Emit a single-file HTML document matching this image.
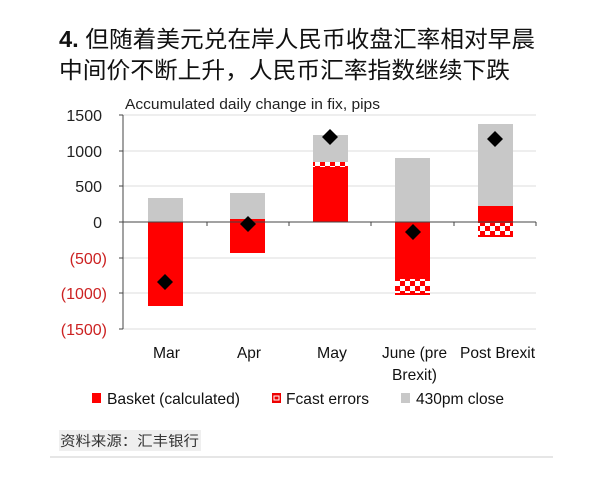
<!DOCTYPE html>
<html><head><meta charset="utf-8"><style>
body{margin:0;background:#fff;width:612px;height:474px;overflow:hidden}
</style></head><body>
<svg width="612" height="474" xmlns="http://www.w3.org/2000/svg" font-family="Liberation Sans, Noto Sans CJK SC, sans-serif">
<defs>
<pattern id="ck" width="10" height="10" patternUnits="userSpaceOnUse" x="0" y="1">
<rect width="10" height="10" fill="#fff"/><rect width="5" height="5" fill="#f00"/><rect x="5" y="5" width="5" height="5" fill="#f00"/>
</pattern>
</defs>
<text x="59" y="47" font-size="23" fill="#111" textLength="476" lengthAdjust="spacingAndGlyphs"><tspan font-weight="bold">4.</tspan> 但随着美元兑在岸人民币收盘汇率相对早晨</text>
<text x="59" y="78" font-size="23" fill="#111" textLength="451" lengthAdjust="spacingAndGlyphs">中间价不断上升，人民币汇率指数继续下跌</text>
<text x="125" y="109" font-size="15" fill="#222" textLength="255" lengthAdjust="spacingAndGlyphs">Accumulated daily change in fix, pips</text>
<g stroke="#ddd" stroke-width="1">
<line x1="123" y1="115" x2="536" y2="115"/><line x1="123" y1="151" x2="536" y2="151"/><line x1="123" y1="186" x2="536" y2="186"/>
<line x1="123" y1="258" x2="536" y2="258"/><line x1="123" y1="293" x2="536" y2="293"/><line x1="123" y1="329" x2="536" y2="329"/>
</g>
<g font-size="16" text-anchor="end">
<text x="102" y="121" fill="#222">1500</text><text x="102" y="157" fill="#222">1000</text><text x="102" y="192" fill="#222">500</text><text x="102" y="228" fill="#222">0</text>
<text x="107" y="264" fill="#c22">(500)</text><text x="107" y="299" fill="#c22">(1000)</text><text x="107" y="335" fill="#c22">(1500)</text>
</g>
<rect x="148" y="198" width="35" height="24" fill="#c8c8c8"/><rect x="148" y="222" width="35" height="84" fill="#f00"/>
<rect x="230" y="193" width="35" height="26" fill="#c8c8c8"/><rect x="230" y="219" width="35" height="34" fill="#f00"/>
<rect x="313" y="135" width="35" height="27" fill="#c8c8c8"/><rect x="313" y="162" width="35" height="5" fill="url(#ck)"/><rect x="313" y="167" width="35" height="55" fill="#f00"/>
<rect x="395" y="158" width="35" height="64" fill="#c8c8c8"/><rect x="395" y="222" width="35" height="57" fill="#f00"/><rect x="395" y="279" width="35" height="14" fill="url(#ck)"/><rect x="395" y="293" width="35" height="2" fill="#f00"/>
<rect x="478" y="124" width="35" height="82" fill="#c8c8c8"/><rect x="478" y="206" width="35" height="17" fill="#f00"/><rect x="478" y="223" width="35" height="12" fill="url(#ck)"/><rect x="478" y="235" width="35" height="2" fill="#f00"/>
<g stroke="#444" stroke-width="1">
<line x1="123" y1="115" x2="123" y2="329"/><line x1="123" y1="222" x2="536" y2="222"/>
<line x1="119" y1="115" x2="123" y2="115"/><line x1="119" y1="151" x2="123" y2="151"/><line x1="119" y1="186" x2="123" y2="186"/><line x1="119" y1="222" x2="123" y2="222"/><line x1="119" y1="258" x2="123" y2="258"/><line x1="119" y1="293" x2="123" y2="293"/><line x1="119" y1="329" x2="123" y2="329"/>
<line x1="207" y1="222" x2="207" y2="226"/><line x1="289" y1="222" x2="289" y2="226"/><line x1="371" y1="222" x2="371" y2="226"/><line x1="454" y1="222" x2="454" y2="226"/><line x1="536" y1="222" x2="536" y2="226"/>
</g>
<g fill="#000">
<path d="M165 274 l8 8 l-8 8 l-8 -8z"/>
<path d="M248 216 l8 8 l-8 8 l-8 -8z"/>
<path d="M330 129 l8 8 l-8 8 l-8 -8z"/>
<path d="M413 224 l8 8 l-8 8 l-8 -8z"/>
<path d="M495 131 l8 8 l-8 8 l-8 -8z"/>
</g>
<g font-size="16" fill="#111">
<text x="153" y="358" textLength="27" lengthAdjust="spacingAndGlyphs">Mar</text>
<text x="237" y="358" textLength="24" lengthAdjust="spacingAndGlyphs">Apr</text>
<text x="317" y="358" textLength="30" lengthAdjust="spacingAndGlyphs">May</text>
<text x="382" y="358" textLength="65" lengthAdjust="spacingAndGlyphs">June (pre</text>
<text x="392" y="380" textLength="45" lengthAdjust="spacingAndGlyphs">Brexit)</text>
<text x="460" y="358" textLength="75" lengthAdjust="spacingAndGlyphs">Post Brexit</text>
</g>
<rect x="92" y="393" width="9" height="10" fill="#f00"/>
<text x="107" y="404" font-size="16" fill="#111" textLength="133" lengthAdjust="spacingAndGlyphs">Basket (calculated)</text>
<rect x="272" y="393" width="9" height="10" fill="#e00"/><rect x="274" y="396" width="5" height="4" fill="none" stroke="#fff" stroke-width="1"/>
<text x="286" y="404" font-size="16" fill="#111" textLength="83" lengthAdjust="spacingAndGlyphs">Fcast errors</text>
<rect x="401" y="393" width="9" height="10" fill="#c8c8c8"/>
<text x="416" y="404" font-size="16" fill="#111" textLength="88" lengthAdjust="spacingAndGlyphs">430pm close</text>
<rect x="59" y="430" width="142" height="21" fill="#efefef"/>
<text x="60" y="446" font-size="14" fill="#333" textLength="139" lengthAdjust="spacingAndGlyphs">资料来源：汇丰银行</text>
<line x1="50" y1="457" x2="553" y2="457" stroke="#ccc" stroke-width="1"/>
</svg>
</body></html>
